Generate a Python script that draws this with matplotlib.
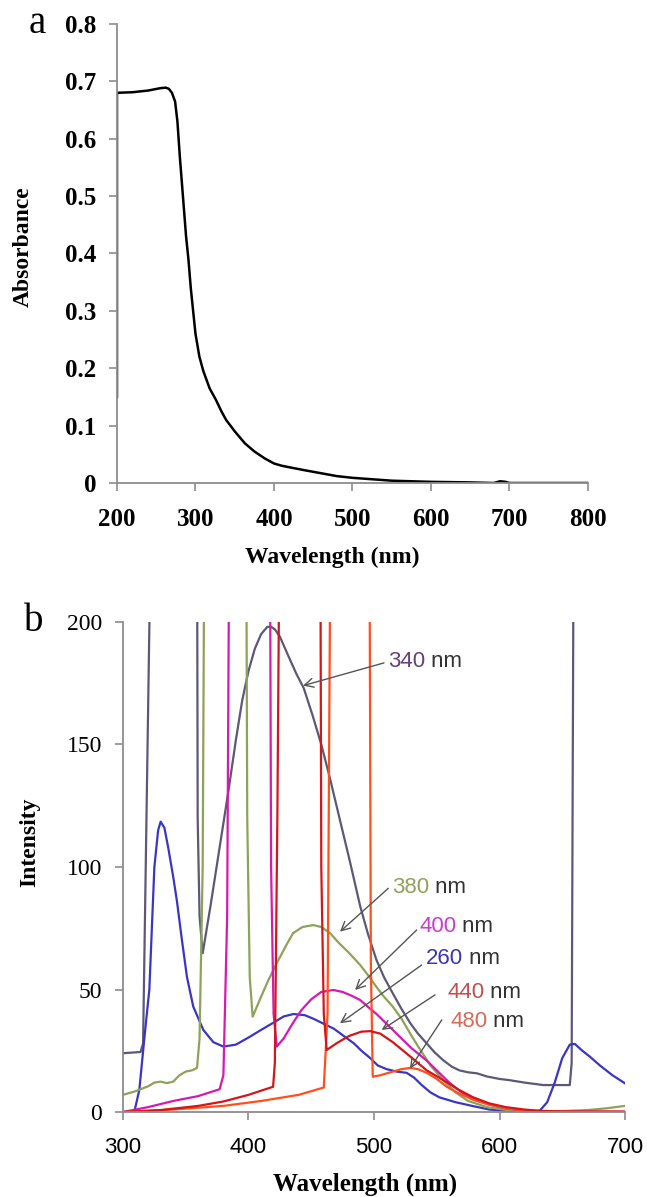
import matplotlib
matplotlib.use("Agg")
import matplotlib.pyplot as plt

# -------------------------------
# DATA
# -------------------------------

# panel a: absorbance spectrum
abs_wl = [200, 200, 220, 240, 255, 262, 266, 270, 274, 277, 280, 284, 288, 291, 294, 297,
          300, 305, 310, 318, 326, 333, 339, 350, 363, 375, 388, 400, 410, 421, 440, 460,
          480, 500, 550, 600, 650, 680, 688, 695, 700, 800]
abs_val = [0.15, 0.68, 0.681, 0.684, 0.688, 0.689, 0.687, 0.68, 0.665, 0.63, 0.57, 0.5, 0.43,
           0.39, 0.34, 0.30, 0.26, 0.22, 0.195, 0.165, 0.145, 0.125, 0.11, 0.09, 0.069, 0.055,
           0.043, 0.034, 0.030, 0.027, 0.022, 0.017, 0.012, 0.009, 0.004, 0.002, 0.001, 0.0,
           0.003, 0.002, 0.0, 0.0]

# panel b: emission spectra for each excitation wavelength
wl_260 = [300, 309, 313, 317, 321, 325, 328, 330, 333, 336, 340, 343, 347, 351, 356, 364, 372,
          380, 390, 401, 410, 420, 428, 436, 445, 452, 460, 468, 476, 484, 490, 497, 503, 510,
          518, 526, 532, 538, 545, 552, 565, 579, 592, 606, 620, 632, 638, 644, 650, 656, 660,
          666, 672, 680, 690, 700]
int_260 = [0, 0, 9, 30, 50, 100, 115, 118.5, 116, 108, 96, 86, 70, 55, 43, 33.5, 28.5, 26.7,
           27.5, 30.7, 33.5, 36.5, 39, 40, 39.5, 38, 36, 34, 31, 28, 25, 22, 19, 17.5, 16.5, 16,
           14, 11, 8, 6, 4, 2.4, 1, 0.5, 0.3, 0.5, 4, 12, 22, 27.5, 27.8, 25, 22.6, 19, 15, 11.7]

wl_340 = [300, 314, 316, 324, 358.8, 359.5, 361, 363.5, 370, 377, 384, 390, 395, 400, 405, 410,
          415, 418, 421, 425, 431, 438, 444, 451, 458, 465, 472, 480, 489, 495, 502, 508, 515,
          522, 529, 535, 542, 548, 555, 562, 568, 575, 582, 590, 600, 608, 620, 635, 645, 656,
          657.5, 659.5]
int_340 = [24, 24.5, 28, 300, 300, 120, 80, 64.8, 85, 108, 131, 152, 168, 180, 189, 195, 198,
           198, 197, 194, 187, 179, 173, 162, 150, 136, 121, 104, 84, 73, 62, 55, 48.4, 42,
           36.2, 32, 28, 24.5, 21.2, 18.5, 17, 16.2, 15.8, 14.5, 13.5, 13, 12, 11, 11, 11, 20, 300]

wl_380 = [300, 310, 320, 325, 330, 335, 340, 345, 350, 355, 359, 361, 363.5, 365.4, 397.8, 399,
          401, 403.3, 410, 416, 422.5, 430, 435.5, 443, 451.6, 458, 465, 472, 480, 489, 495,
          502, 508, 515, 522, 530, 537, 545, 555, 565, 575, 590, 610, 630, 650, 670, 685, 700]
int_380 = [7, 8.5, 10.5, 12, 12.4, 11.8, 12.4, 15, 16.5, 17, 18, 30, 100, 300, 300, 120, 55,
           38.9, 47, 54, 60.7, 68, 73, 75.5, 76.3, 75.5, 73, 69, 65, 60, 56, 51, 47, 43, 38, 31,
           25.3, 19, 13, 8, 4.5, 2, 0.5, 0.3, 0.4, 0.8, 1.5, 2.5]

wl_400 = [300, 320, 340, 360, 377, 380, 383, 385.3, 416.7, 418, 420, 422.5, 428, 435, 442, 450,
          458, 467.6, 475, 482, 489, 495, 502, 508, 515, 522, 530, 542, 550, 560, 570, 580, 592,
          605, 620, 640, 700]
int_400 = [0, 2, 4.5, 6.5, 9.3, 15, 80, 300, 300, 100, 40, 26.7, 30, 36, 41.5, 46, 49, 49.8, 49,
           47.5, 45.7, 43, 40, 37, 33.5, 30, 26, 21, 17, 12, 8, 5, 3, 1.5, 0.5, 0.2, 0.1]

wl_440 = [300, 330, 360, 380, 400, 410, 419.6, 421, 423, 425.6, 456.9, 458, 460, 462.3, 470, 480,
          490, 497, 505, 515, 529, 542, 552, 560, 566, 579, 592, 605, 620, 632, 650, 700]
int_440 = [0, 0.8, 2.5, 4.3, 7, 8.7, 10.3, 20, 120, 300, 300, 100, 40, 25.3, 28, 31, 32.8, 33,
           32, 28.5, 22.6, 17, 14, 11.5, 9.5, 6, 3.5, 2, 1, 0.5, 0.2, 0.1]

wl_480 = [300, 340, 380, 410, 440, 460, 463, 466, 496, 497.5, 499, 505, 515, 522, 529, 535, 542,
          550, 558, 566, 579, 592, 605, 620, 640, 700]
int_480 = [0, 1, 2.5, 4.5, 7, 10, 40, 300, 300, 60, 14.4, 15, 16.5, 17.5, 18, 17.5, 16, 13.5,
           10.3, 8, 5, 3, 1.5, 0.6, 0.2, 0.1]

# label text, label position (left edge, middle), arrow start, arrow end
labels = ["340", "380", "400", "260", "440", "480"]
label_xy = [(511, 184), (514.6, 91.5), (536, 75.6), (541, 62.7), (558.4, 48.7), (560.6, 36.9)]
arrow_from = [(508, 183.3), (511.4, 91.3), (534, 74.3), (538, 60), (548.6, 47.8), (554, 37.6)]
arrow_to = [(443.4, 174), (472.9, 73.6), (484.9, 49.8), (472.9, 36.2), (506.1, 33.5), (528.7, 17.8)]

line_colors = {"260": "#3a36c4", "340": "#5d5878", "380": "#8ea35a", "400": "#d41ab0",
               "440": "#d2161a", "480": "#ff4f1c"}
label_colors = {"260": "#3a36b0", "340": "#6a3f78", "380": "#8fa35a", "400": "#c83ccf",
                "440": "#c0504d", "480": "#d96a5a"}

# -------------------------------
# FIGURE
# -------------------------------

fig = plt.figure(figsize=(6.47, 11.97), dpi=100)
axis_gray = "#8c8c8c"
serif = "Liberation Serif"

# ---- panel a ----
ax1 = fig.add_axes([0.1808, 0.5965, 0.7280, 0.3835])
ax1.plot(abs_wl, abs_val, color="black", lw=1.8)
ax1.set_xlim(200, 800)
ax1.set_ylim(0, 0.8)
ax1.set_xticks(range(200, 801, 100))
ax1.set_yticks([0, 0.1, 0.2, 0.3, 0.4, 0.5, 0.6, 0.7, 0.8])
ax1.set_yticklabels(["0", "0.1", "0.2", "0.3", "0.4", "0.5", "0.6", "0.7", "0.8"])
for lab in ax1.get_xticklabels() + ax1.get_yticklabels():
    lab.set_fontfamily(serif)
    lab.set_fontweight("bold")
    lab.set_fontsize(18)
ax1.set_xlabel("Wavelength (nm)", fontfamily=serif, fontweight="bold", fontsize=17, va="center")
ax1.set_ylabel("Absorbance", fontfamily=serif, fontweight="bold", fontsize=17, va="center")
ax1.xaxis.set_label_coords(0.456, -0.163)
ax1.yaxis.set_label_coords(-0.2, 0.514)
ax1.text(-0.17, 1.0, "a", transform=ax1.transAxes, fontfamily=serif, fontsize=28,
         ha="center", va="center")

# ---- panel b ----
ax2 = fig.add_axes([0.1901, 0.0710, 0.7759, 0.4094])
for key, wl, inten in [("340", wl_340, int_340), ("260", wl_260, int_260),
                       ("380", wl_380, int_380), ("400", wl_400, int_400),
                       ("480", wl_480, int_480), ("440", wl_440, int_440)]:
    ax2.plot(wl, inten, color=line_colors[key], lw=1.6)
ax2.set_xlim(300, 700)
ax2.set_ylim(0, 200)
ax2.set_xticks(range(300, 701, 100))
ax2.set_yticks(range(0, 201, 50))
for lab in ax2.get_xticklabels():
    lab.set_fontfamily("Liberation Sans")
    lab.set_fontsize(16)
for lab in ax2.get_yticklabels():
    lab.set_fontfamily(serif)
    lab.set_fontsize(17)
ax2.set_xlabel("Wavelength (nm)", fontfamily=serif, fontweight="bold", fontsize=18, va="center")
ax2.set_ylabel("Intensity", fontfamily=serif, fontweight="bold", fontsize=17, va="center")
ax2.xaxis.set_label_coords(0.482, -0.147)
ax2.yaxis.set_label_coords(-0.186, 0.55)
ax2.text(-0.177, 1.0, "b", transform=ax2.transAxes, fontfamily=serif, fontsize=28,
         ha="center", va="center")

for lab, pos, start, end in zip(labels, label_xy, arrow_from, arrow_to):
    ax2.annotate("", xy=end, xytext=start,
                 arrowprops=dict(arrowstyle="->", color="#555555", lw=1.0, mutation_scale=16,
                                 shrinkA=0, shrinkB=0))
    t = ax2.text(pos[0], pos[1], lab, color=label_colors[lab], fontfamily="Liberation Sans",
                 fontsize=16, ha="left", va="center")
    ax2.annotate(" nm", xy=(1, 0), xycoords=t, ha="left", va="bottom", color="#333333",
                 fontfamily="Liberation Sans", fontsize=16)

# spines and ticks
for ax in (ax1, ax2):
    ax.spines["top"].set_visible(False)
    ax.spines["right"].set_visible(False)
    ax.spines["left"].set_color(axis_gray)
    ax.spines["bottom"].set_color(axis_gray)
    ax.spines["left"].set_linewidth(1.3)
    ax.spines["bottom"].set_linewidth(1.3)
    ax.tick_params(direction="out", length=6, width=1.2, color=axis_gray)
    ax.tick_params(axis="x", pad=12)
    ax.tick_params(axis="y", pad=9)

plt.savefig("out.png", dpi=100)
